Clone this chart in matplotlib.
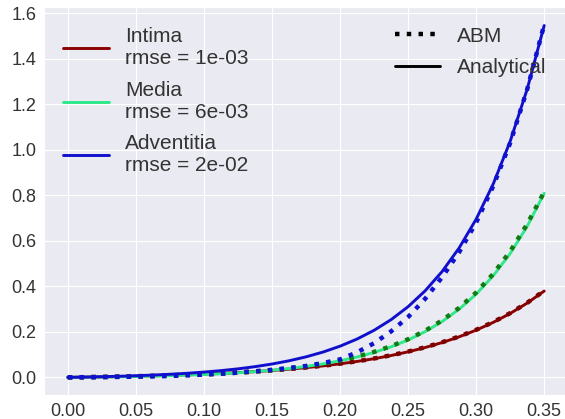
import matplotlib
matplotlib.use('Agg')
import matplotlib.pyplot as plt
import seaborn as sns

sns.set_style('darkgrid')
plt.rcParams['font.family'] = ['Liberation Sans', 'DejaVu Sans']

t = [0.0, 0.0125, 0.025, 0.0375, 0.05, 0.0625, 0.075, 0.0875, 0.1, 0.1125,
     0.125, 0.1375, 0.15, 0.1625, 0.175, 0.1875, 0.2, 0.2125, 0.225, 0.2375,
     0.25, 0.2625, 0.275, 0.2875, 0.3, 0.3125, 0.325, 0.3375, 0.35]

# analytical solutions
intima_an = [0.0, 0.001, 0.002, 0.0034, 0.005, 0.0068, 0.0088, 0.0112, 0.014, 0.0172,
             0.0209, 0.0252, 0.0302, 0.036, 0.0427, 0.0504, 0.0595, 0.0699, 0.082, 0.096,
             0.1122, 0.1311, 0.1529, 0.1781, 0.2075, 0.2414, 0.2808, 0.3264, 0.3793]
media_an = [0.0, 0.0007, 0.0016, 0.0026, 0.0039, 0.0054, 0.0073, 0.0096, 0.0124, 0.0159,
            0.02, 0.0251, 0.0313, 0.0388, 0.048, 0.0592, 0.0728, 0.0894, 0.1096, 0.1342,
            0.1642, 0.2007, 0.2453, 0.2995, 0.3656, 0.4461, 0.544, 0.6634, 0.8091]
advent_an = [0.0, 0.0013, 0.0029, 0.0048, 0.0072, 0.0101, 0.0136, 0.0179, 0.0232, 0.0296,
             0.0374, 0.047, 0.0586, 0.0728, 0.0901, 0.1112, 0.137, 0.1684, 0.2067, 0.2535,
             0.3105, 0.3801, 0.465, 0.5685, 0.6949, 0.849, 1.037, 1.2663, 1.5461]

# ABM results
intima_abm = [0.0, 0.001, 0.002, 0.0035, 0.0051, 0.0069, 0.009, 0.0114, 0.0143, 0.0175,
              0.0212, 0.0256, 0.0306, 0.0365, 0.0432, 0.051, 0.0602, 0.0707, 0.0829, 0.097,
              0.1133, 0.1323, 0.1542, 0.1795, 0.209, 0.2429, 0.2822, 0.3277, 0.3805]
media_abm = [0.0, 0.0007, 0.0016, 0.0027, 0.004, 0.0056, 0.0075, 0.0099, 0.0127, 0.0163,
             0.0205, 0.0257, 0.032, 0.0397, 0.049, 0.0604, 0.0743, 0.0912, 0.1118, 0.1369,
             0.1675, 0.2047, 0.2502, 0.3054, 0.3727, 0.4545, 0.5537, 0.6733, 0.815]
advent_abm = [0.0, 0.0005, 0.001, 0.002, 0.003, 0.0045, 0.006, 0.009, 0.012, 0.016,
              0.021, 0.027, 0.033, 0.041, 0.05, 0.063, 0.079, 0.11, 0.15, 0.202,
              0.265, 0.345, 0.44, 0.55, 0.68, 0.84, 1.03, 1.265, 1.55]

labels = ['Intima\nrmse = 1e-03', 'Media\nrmse = 6e-03', 'Adventitia\nrmse = 2e-02']
colors = ['#8b0000', '#2ee889', '#1010cc']
abm_colors = ['#7a0000', '#137a13', '#1010d0']

fig = plt.figure(figsize=(5.65, 4.19), dpi=100)
ax = fig.add_axes([44 / 565, 24 / 419, 524 / 565, 388 / 419])

lines = []
for an, abm, lab, c, ca in zip([intima_an, media_an, advent_an],
                               [intima_abm, media_abm, advent_abm],
                               labels, colors, abm_colors):
    l, = ax.plot(t, an, color=c, lw=2.1, label=lab)
    ax.plot(t, abm, color=ca, lw=3.2, ls=':')
    lines.append(l)

ax.tick_params(labelsize=13, colors='#333333', pad=2)

leg1 = ax.legend(handles=lines, loc='upper left', fontsize=15, frameon=False,
                 bbox_to_anchor=(0.0, 0.996), handlelength=2.2, labelspacing=0.6,
                 labelcolor='#333333')
ax.add_artist(leg1)
h1, = ax.plot([], [], color='black', ls=':', lw=3.2)
h2, = ax.plot([], [], color='black', ls='-', lw=2.1)
ax.legend([h1, h2], ['ABM', 'Analytical'], loc='upper right', fontsize=15,
          frameon=False, bbox_to_anchor=(0.995, 0.998), handlelength=2.2,
          labelspacing=0.6, labelcolor='#333333')

plt.savefig('out.png', dpi=100)
